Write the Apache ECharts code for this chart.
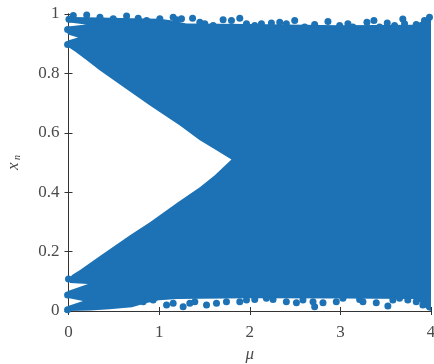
<!DOCTYPE html>
<html>
<head>
<meta charset="utf-8">
<script src="https://cdn.jsdelivr.net/npm/echarts@6/dist/echarts.min.js"></script>
<style>
  html, body { margin: 0; padding: 0; background: #fff; }
  #chart { width: 434px; height: 364px; }
</style>
</head>
<body>
<div id="chart"></div>
<script>
// Orbit cloud of x_n against the parameter mu: the dense region is outlined
// by its edges, and the loose points along the rim are listed individually.

const xTicks = [0, 1, 2, 3, 4];
const yTicks = [0, 0.2, 0.4, 0.6, 0.8, 1];

// upper rim of the cloud, left to right  [mu, x]
const topEdge = [[0.006,0.981],[0.04,0.99],[0.35,0.988],[0.7,0.986],[1.0,0.984],[1.15,0.978],[1.3,0.968],[2.0,0.966],[3.0,0.962],[3.8,0.964],[3.9,0.975],[3.97,0.992],[4.0,1.0],[4.0,0.0]];
// lower rim, right to left
const bottomEdge = [[3.96,0.003],[3.9,0.026],[3.8,0.04],[3.0,0.042],[2.0,0.043],[1.2,0.04],[1.0,0.036],[0.85,0.026],[0.7,0.013],[0.45,0.006],[0.24,0.002],[0.006,0.0]];
// left side below the empty wedge (with its two notches)
const leftLower = [[-0.017,0.003],[-0.006,0.017],[0.16,0.034],[-0.006,0.044],[-0.028,0.054],[-0.006,0.067],[0.215,0.091],[0.017,0.094],[0.006,0.108],[0.039,0.121]];
// lower side of the empty wedge, out to its tip
const wedgeLower = [[0.127,0.138],[0.347,0.185],[0.678,0.255],[0.898,0.299],[1.207,0.366],[1.449,0.417],[1.614,0.457],[1.798,0.51]];
// upper side of the empty wedge, back to the left
const wedgeUpper = [[1.614,0.545],[1.449,0.575],[1.229,0.625],[0.898,0.692],[0.567,0.763],[0.347,0.81],[0.201,0.844],[0.072,0.874],[0.006,0.887]];
// left side above the wedge (with its two notches)
const leftUpper = [[-0.028,0.897],[-0.006,0.911],[0.105,0.921],[-0.006,0.931],[-0.028,0.948],[-0.006,0.958],[0.193,0.965],[0.006,0.971]];

// loose points along the top
const topDots = [[0.053,0.995],[0.201,0.997],[0.347,0.989],[0.494,0.984],[0.641,0.993],[0.769,0.986],[0.862,0.978],[1.008,0.984],[1.155,0.989],
  [1.192,0.981],[1.247,0.984],[1.369,0.986],[1.449,0.972],[1.504,0.967],[1.596,0.961],[1.706,0.981],[1.798,0.978],[1.89,0.986],[1.964,0.967],
  [2.055,0.961],[2.129,0.967],[2.239,0.97],[2.331,0.972],[2.404,0.967],[2.496,0.978],[2.606,0.956],[2.716,0.965],[2.863,0.975],[2.992,0.961],
  [3.083,0.967],[3.138,0.956],[3.193,0.947],[3.293,0.972],[3.37,0.978],[3.433,0.956],[3.517,0.97],[3.598,0.961],[3.689,0.983],[3.708,0.967],
  [3.837,0.965],[3.928,0.978],[3.983,0.989]];
// loose points along the bottom
const bottomDots = [[0.824,0.031],[0.934,0.037],[1.082,0.02],[1.155,0.026],[1.265,0.014],[1.339,0.026],[1.394,0.031],[1.523,0.02],[1.633,0.026],
  [1.743,0.031],[1.89,0.031],[1.964,0.037],[2.055,0.039],[2.184,0.043],[2.257,0.039],[2.404,0.031],[2.515,0.028],[2.587,0.037],[2.698,0.031],
  [2.716,0.014],[2.808,0.028],[2.955,0.031],[3.028,0.043],[3.212,0.039],[3.249,0.031],[3.396,0.028],[3.524,0.017],[3.579,0.037],[3.653,0.043],
  [3.744,0.037],[3.837,0.031],[3.91,0.02]];
// rounded ends of the bands at mu = 0
const leftDots = [[0.005,0.982],[-0.01,0.948],[-0.01,0.897],[0.0,0.108],[-0.01,0.054],[-0.01,0.004]];

const BLUE = '#1c72b4';
const AXIS = '#333333';
const TEXT = '#4a4a4a';
const FONT = 'Liberation Serif';

const outline = [].concat(topEdge, bottomEdge, leftLower, wedgeLower, wedgeUpper, leftUpper);
const dots = [].concat(topDots, bottomDots, leftDots);

const chart = echarts.init(document.getElementById('chart'), null, { renderer: 'canvas' });

const axisCommon = {
  type: 'value',
  axisLine: { show: true, lineStyle: { color: AXIS, width: 1 } },
  axisTick: { show: true, inside: true, length: 4, lineStyle: { color: AXIS } },
  splitLine: { show: false }
};

chart.setOption({
  animation: false,
  backgroundColor: '#ffffff',
  textStyle: { fontFamily: FONT },
  grid: { left: 68.5, right: 3, top: 14, bottom: 53, containLabel: false, outerBoundsMode: 'none' },
  xAxis: [
    Object.assign({}, axisCommon, {
      position: 'bottom', min: xTicks[0], max: xTicks[xTicks.length - 1], interval: 1,
      axisLabel: { color: TEXT, fontFamily: FONT, fontSize: 17, margin: 13 },
      name: 'μ', nameLocation: 'middle', nameGap: 33,
      nameTextStyle: { color: TEXT, fontFamily: FONT, fontSize: 17, fontStyle: 'italic' }
    }),
    Object.assign({}, axisCommon, {
      position: 'top', min: xTicks[0], max: xTicks[xTicks.length - 1], interval: 1,
      axisLabel: { show: false }
    })
  ],
  yAxis: [
    Object.assign({}, axisCommon, {
      position: 'left', min: yTicks[0], max: yTicks[yTicks.length - 1], interval: 0.2,
      axisLabel: { color: TEXT, fontFamily: FONT, fontSize: 17, margin: 9 },
      name: '{i|x}{s| n}', nameLocation: 'middle', nameGap: 46,
      nameTextStyle: {
        color: TEXT, fontFamily: FONT,
        rich: {
          i: { fontFamily: FONT, fontSize: 17, fontStyle: 'italic', color: TEXT },
          s: { fontFamily: FONT, fontSize: 10, fontStyle: 'italic', color: TEXT, padding: [8, 0, 0, 0] }
        }
      }
    }),
    Object.assign({}, axisCommon, {
      position: 'right', min: yTicks[0], max: yTicks[yTicks.length - 1], interval: 0.2,
      axisLabel: { show: false }
    })
  ],
  series: [
    {
      type: 'custom',
      xAxisIndex: 0, yAxisIndex: 0,
      clip: false,
      data: outline,
      renderItem: function (params, api) {
        if (params.dataIndex !== 0) return null;
        const pts = outline.map(function (p) { return api.coord(p); });
        return { type: 'polygon', shape: { points: pts }, style: { fill: BLUE } };
      },
      z: 2
    },
    {
      type: 'scatter',
      xAxisIndex: 0, yAxisIndex: 0,
      clip: false,
      symbol: 'circle',
      symbolSize: 7,
      itemStyle: { color: BLUE, opacity: 1 },
      data: dots,
      z: 3
    }
  ]
});
</script>
</body>
</html>
